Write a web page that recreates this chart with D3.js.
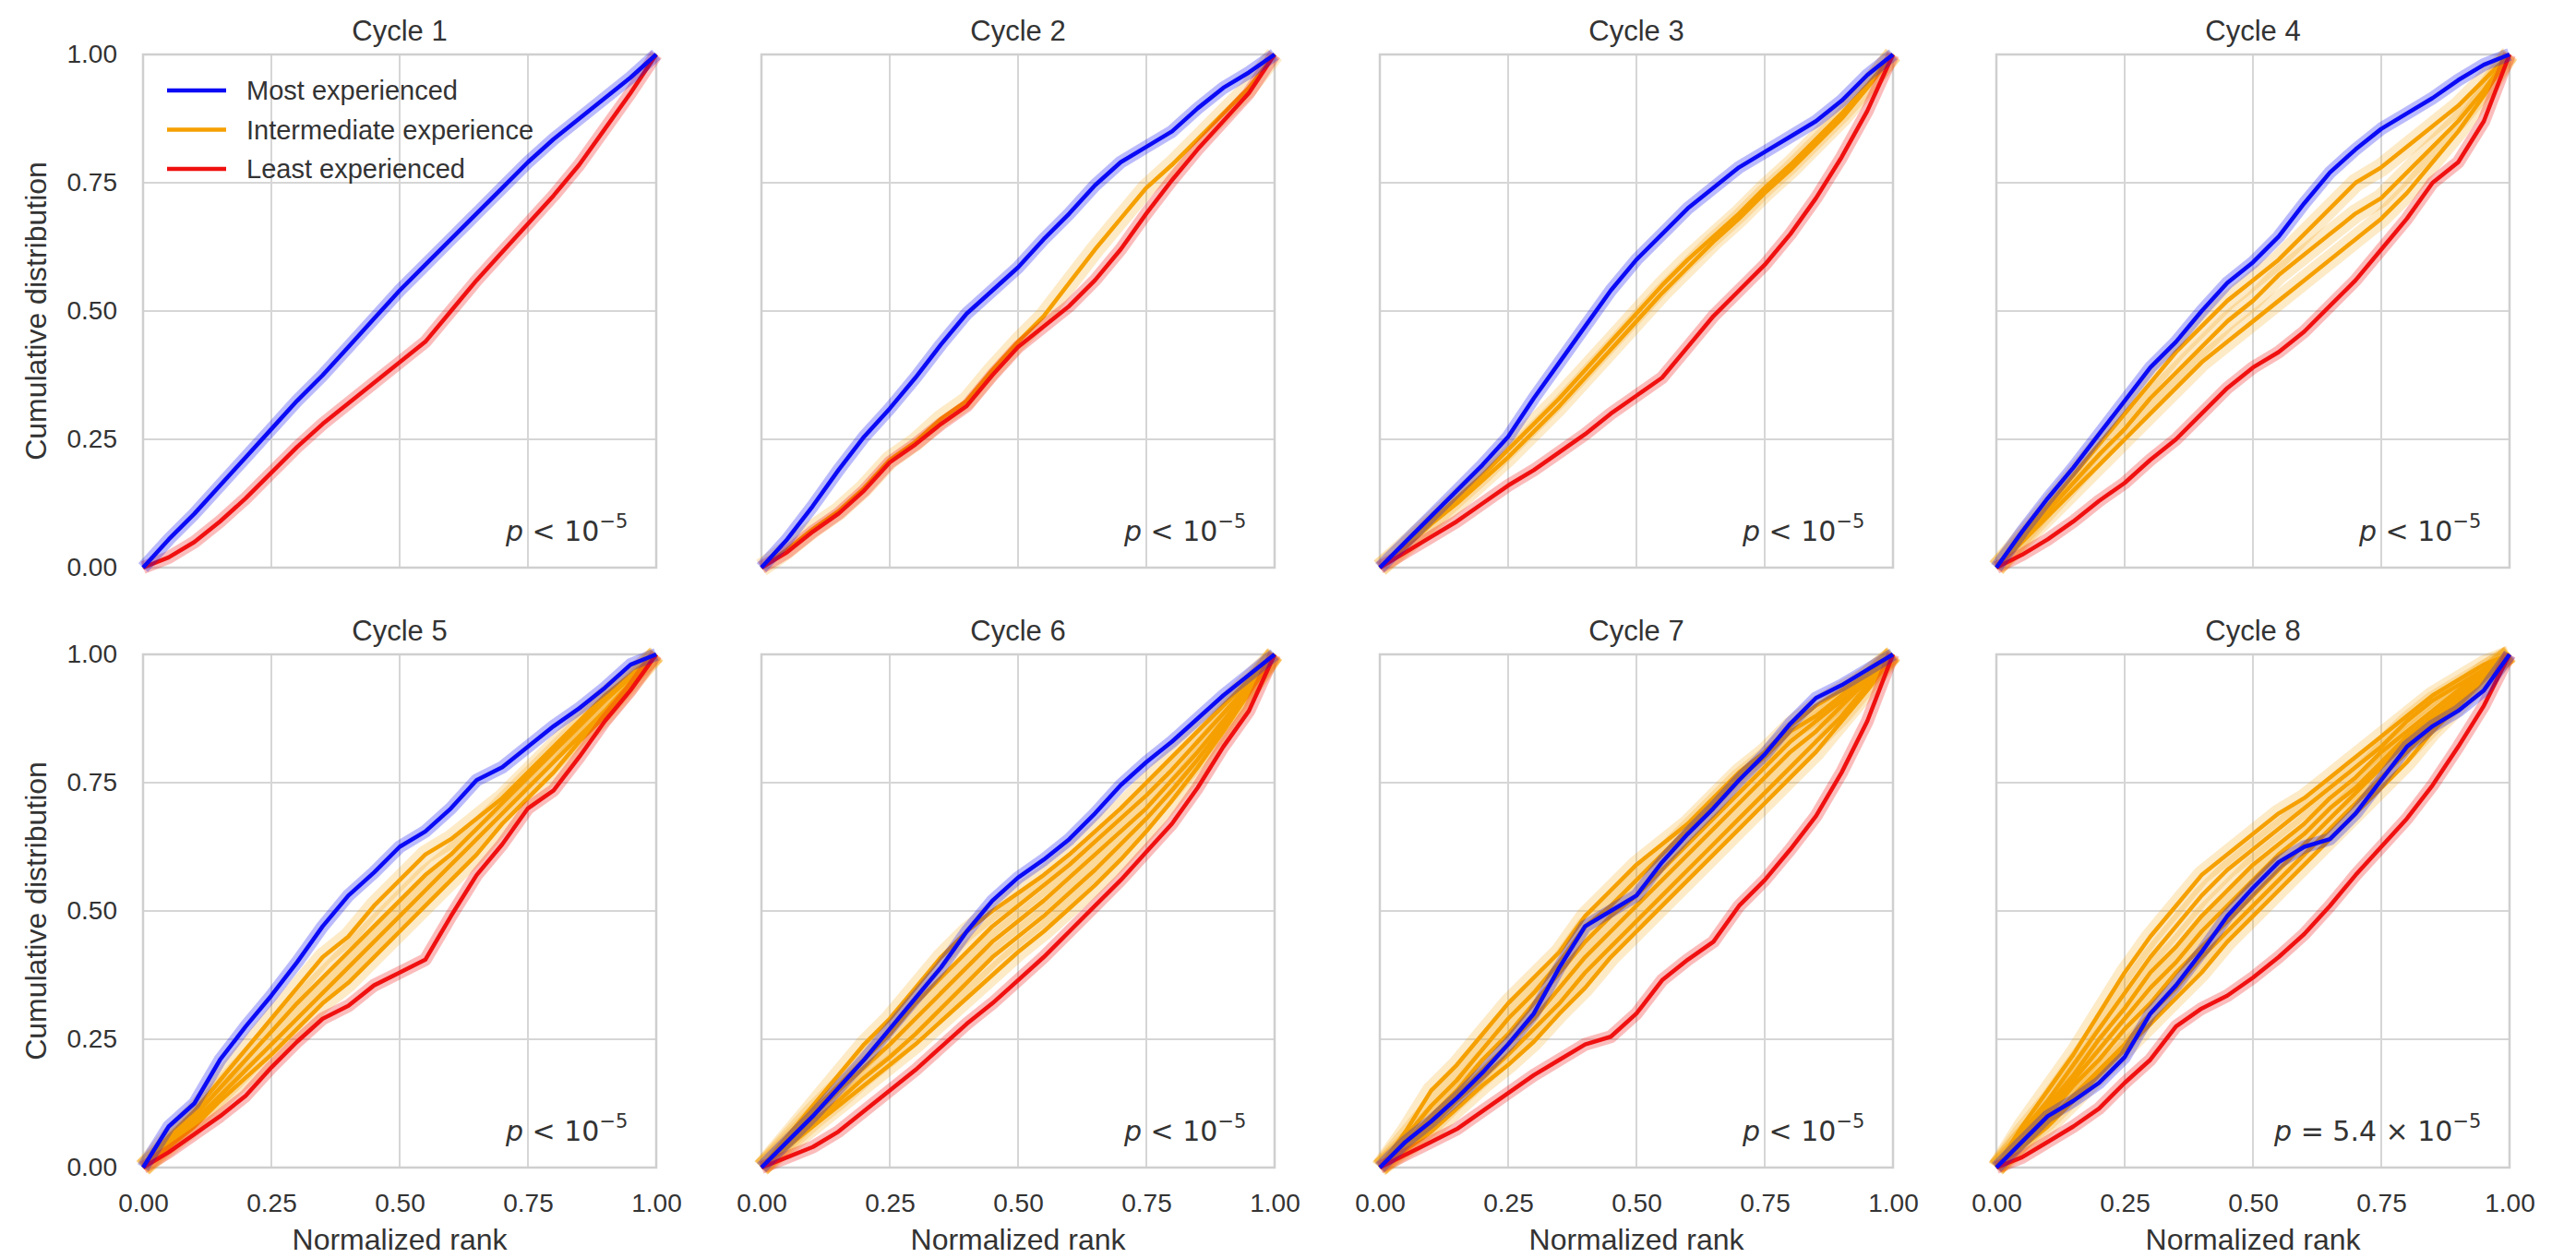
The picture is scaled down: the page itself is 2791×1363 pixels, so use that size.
<!DOCTYPE html>
<html>
<head>
<meta charset="utf-8">
<script src="https://cdn.jsdelivr.net/npm/d3@7"></script>
<style>
  html, body { margin: 0; padding: 0; background: #fff; }
  svg { display: block; }
  text { font-family: "Liberation Sans", Arial, sans-serif; fill: #333; }
</style>
</head>
<body>
<div id="chart"></div>
<script>
const cycleTitles = ["Cycle 1", "Cycle 2", "Cycle 3", "Cycle 4", "Cycle 5", "Cycle 6", "Cycle 7", "Cycle 8"];
const rankGrid = [0, 0.05, 0.1, 0.15, 0.2, 0.25, 0.3, 0.35, 0.4, 0.45, 0.5, 0.55, 0.6, 0.65, 0.7, 0.75, 0.8, 0.85, 0.9, 0.95, 1];
const axisTicks = [0, 0.25, 0.5, 0.75, 1];

const mostExperienced = [
  [0, .055, .105, .16, .215, .27, .325, .375, .43, .485, .54, .59, .64, .69, .74, .79, .835, .875, .915, .955, 1],
  [0, .055, .12, .19, .255, .31, .37, .435, .495, .54, .585, .64, .69, .745, .79, .82, .85, .895, .935, .965, 1],
  [0, .05, .10, .15, .20, .255, .33, .40, .47, .54, .60, .65, .70, .74, .78, .81, .84, .87, .91, .96, 1],
  [0, .07, .135, .195, .26, .325, .39, .44, .5, .555, .595, .645, .71, .77, .815, .855, .885, .915, .95, .98, 1],
  [0, .08, .125, .21, .275, .335, .40, .47, .53, .575, .625, .655, .70, .755, .78, .82, .86, .895, .935, .98, 1],
  [0, .05, .10, .155, .21, .27, .33, .39, .46, .52, .565, .60, .64, .69, .745, .79, .83, .875, .92, .96, 1],
  [0, .05, .09, .135, .185, .24, .30, .39, .47, .50, .53, .595, .65, .70, .755, .805, .865, .915, .94, .97, 1],
  [0, .05, .10, .13, .165, .215, .30, .355, .42, .49, .545, .595, .625, .64, .69, .755, .82, .86, .89, .93, 1]
];

const leastExperienced = [
  [0, .02, .05, .09, .135, .185, .235, .28, .32, .36, .40, .44, .50, .56, .615, .67, .725, .785, .855, .925, 1],
  [0, .03, .07, .105, .15, .205, .24, .28, .315, .375, .43, .47, .51, .56, .62, .69, .755, .815, .87, .925, 1],
  [0, .03, .06, .09, .125, .16, .19, .225, .26, .30, .335, .37, .43, .49, .54, .59, .65, .72, .80, .89, 1],
  [0, .025, .055, .09, .13, .165, .21, .25, .30, .35, .39, .42, .46, .51, .56, .62, .68, .75, .79, .87, 1],
  [0, .03, .065, .10, .14, .195, .245, .29, .315, .355, .38, .405, .49, .57, .63, .70, .735, .80, .87, .93, 1],
  [0, .02, .04, .07, .11, .15, .19, .235, .28, .32, .365, .41, .46, .51, .56, .615, .67, .74, .82, .89, 1],
  [0, .025, .05, .075, .11, .145, .18, .21, .24, .255, .30, .365, .405, .44, .51, .56, .62, .685, .77, .87, 1],
  [0, .02, .05, .08, .115, .165, .21, .275, .31, .335, .37, .41, .455, .51, .57, .625, .68, .745, .82, .90, 1]
];

const intermediateExperience = [
  [],
  [
    [0, .035, .075, .11, .155, .21, .245, .29, .325, .385, .44, .49, .555, .62, .68, .74, .785, .835, .885, .935, 1]
  ],
  [
    [0, .045, .09, .135, .18, .23, .28, .33, .385, .44, .495, .55, .60, .645, .69, .74, .785, .835, .885, .94, 1],
    [0, .04, .085, .125, .17, .215, .265, .315, .37, .425, .48, .535, .585, .635, .68, .73, .775, .825, .875, .935, 1]
  ],
  [
    [0, .06, .12, .18, .24, .30, .36, .42, .47, .52, .56, .60, .65, .70, .75, .78, .82, .86, .90, .95, 1],
    [0, .055, .11, .165, .22, .27, .33, .38, .43, .48, .52, .57, .61, .65, .69, .72, .77, .82, .87, .93, 1],
    [0, .05, .10, .15, .20, .25, .30, .35, .40, .44, .48, .52, .56, .60, .64, .68, .73, .79, .85, .92, 1]
  ],
  [
    [0, .06, .11, .17, .23, .29, .35, .41, .45, .51, .56, .61, .64, .68, .72, .77, .82, .87, .92, .96, 1],
    [0, .05, .10, .155, .21, .265, .32, .37, .42, .47, .52, .57, .61, .66, .71, .76, .81, .86, .91, .955, 1],
    [0, .045, .09, .14, .19, .24, .29, .34, .39, .44, .49, .54, .59, .64, .69, .74, .79, .84, .89, .945, 1],
    [0, .04, .08, .13, .175, .22, .27, .32, .36, .41, .46, .51, .56, .61, .67, .72, .77, .83, .88, .94, 1]
  ],
  [
    [0, .06, .12, .18, .24, .29, .35, .41, .46, .50, .535, .57, .61, .655, .70, .75, .80, .85, .90, .95, 1],
    [0, .055, .11, .16, .21, .26, .32, .37, .42, .47, .51, .55, .59, .635, .68, .725, .775, .83, .885, .94, 1],
    [0, .05, .10, .15, .195, .24, .29, .34, .39, .44, .48, .52, .565, .61, .655, .70, .755, .81, .87, .935, 1],
    [0, .045, .09, .13, .175, .215, .26, .31, .36, .41, .45, .49, .535, .58, .63, .68, .735, .795, .86, .93, 1],
    [0, .04, .08, .12, .16, .20, .24, .285, .33, .375, .42, .46, .505, .55, .60, .655, .715, .78, .85, .925, 1]
  ],
  [
    [0, .07, .15, .20, .26, .32, .37, .42, .49, .54, .59, .63, .67, .72, .77, .81, .86, .90, .93, .96, 1],
    [0, .06, .12, .17, .23, .29, .34, .40, .47, .51, .56, .61, .66, .71, .76, .80, .85, .88, .92, .96, 1],
    [0, .05, .10, .15, .21, .26, .32, .38, .44, .49, .53, .58, .63, .68, .73, .78, .83, .87, .91, .95, 1],
    [0, .045, .09, .14, .19, .24, .29, .35, .41, .46, .51, .56, .61, .66, .71, .76, .81, .85, .90, .95, 1],
    [0, .04, .08, .13, .175, .22, .27, .32, .38, .43, .48, .53, .58, .63, .68, .73, .78, .83, .88, .94, 1],
    [0, .035, .07, .115, .16, .20, .245, .30, .35, .41, .46, .51, .56, .61, .66, .71, .76, .81, .87, .93, 1]
  ],
  [
    [0, .08, .15, .22, .30, .38, .45, .51, .57, .61, .65, .69, .72, .76, .80, .84, .88, .92, .95, .98, 1],
    [0, .07, .13, .20, .27, .34, .41, .47, .53, .58, .62, .66, .70, .74, .78, .82, .87, .91, .94, .97, 1],
    [0, .06, .12, .18, .25, .31, .38, .43, .49, .54, .59, .63, .67, .72, .76, .81, .85, .89, .93, .97, 1],
    [0, .06, .11, .17, .23, .29, .35, .40, .46, .51, .56, .61, .65, .70, .74, .79, .84, .88, .92, .96, 1],
    [0, .05, .10, .16, .21, .27, .32, .38, .43, .48, .53, .58, .63, .68, .73, .78, .83, .87, .91, .96, 1],
    [0, .05, .09, .14, .19, .24, .30, .35, .41, .46, .51, .56, .61, .66, .71, .76, .81, .86, .91, .96, 1],
    [0, .04, .08, .13, .18, .23, .28, .33, .38, .44, .49, .54, .59, .64, .69, .74, .79, .85, .90, .95, 1]
  ]
];

// p-value annotation: [relation, mantissa]
const pValues = [
  ["<", null], ["<", null], ["<", null], ["<", null],
  ["<", null], ["<", null], ["<", null], ["=", "5.4"]
];

const legendLabels = ["Most experienced", "Intermediate experience", "Least experienced"];
const legendColors = ["#0a0af5", "#f5a000", "#f01010"];

const W = 2791, H = 1363;
const size = 556;
const panelLeft = [155, 825, 1495, 2163];
const panelTop = [59, 709];

const svg = d3.select("#chart").append("svg")
  .attr("width", W)
  .attr("height", H);

const x = d3.scaleLinear().domain([0, 1]).range([0, size]);
const y = d3.scaleLinear().domain([0, 1]).range([size, 0]);
const line = d3.line()
  .x((d, i) => x(rankGrid[i]))
  .y(d => y(d));

const drawCurve = (g, values, color, bandWidth, bandOpacity) => {
  g.append("path")
    .attr("d", line(values))
    .attr("fill", "none")
    .attr("stroke", color)
    .attr("stroke-opacity", bandOpacity)
    .attr("stroke-width", bandWidth)
    .attr("stroke-linejoin", "round");
  g.append("path")
    .attr("d", line(values))
    .attr("fill", "none")
    .attr("stroke", color)
    .attr("stroke-width", 4.5)
    .attr("stroke-linejoin", "round");
};

cycleTitles.forEach((title, k) => {
  const col = k % 4, row = Math.floor(k / 4);
  const g = svg.append("g")
    .attr("transform", `translate(${panelLeft[col]},${panelTop[row]})`);

  // grid
  g.selectAll(".vgrid").data(axisTicks).enter().append("line")
    .attr("x1", d => x(d)).attr("x2", d => x(d))
    .attr("y1", 0).attr("y2", size)
    .attr("stroke", "#d6d6d6").attr("stroke-width", 2);
  g.selectAll(".hgrid").data(axisTicks).enter().append("line")
    .attr("y1", d => y(d)).attr("y2", d => y(d))
    .attr("x1", 0).attr("x2", size)
    .attr("stroke", "#d6d6d6").attr("stroke-width", 2);
  g.append("rect")
    .attr("width", size).attr("height", size)
    .attr("fill", "none")
    .attr("stroke", "#cfcfcf").attr("stroke-width", 2.5);

  // curves: intermediate first, then least, then most
  const curves = g.append("g");
  intermediateExperience[k].forEach(v => drawCurve(curves, v, legendColors[1], 20, 0.22));
  drawCurve(curves, leastExperienced[k], legendColors[2], 14, 0.28);
  drawCurve(curves, mostExperienced[k], legendColors[0], 14, 0.28);

  // title
  g.append("text")
    .attr("x", size / 2)
    .attr("y", -15)
    .attr("text-anchor", "middle")
    .style("font-size", "31px")
    .text(title);

  // y axis on the left column
  if (col === 0) {
    const ya = g.append("g")
      .call(d3.axisLeft(y).tickValues(axisTicks).tickFormat(d3.format(".2f")).tickSize(0).tickPadding(28));
    ya.select(".domain").remove();
    ya.selectAll("text").style("font-size", "28px").style("font-family", "Liberation Sans, Arial, sans-serif").attr("fill", "#333");
    g.append("text")
      .attr("transform", "rotate(-90)")
      .attr("x", -size / 2)
      .attr("y", -105)
      .attr("text-anchor", "middle")
      .style("font-size", "32px")
      .text("Cumulative distribution");
  }

  // x axis on the bottom row
  if (row === 1) {
    const xa = g.append("g")
      .attr("transform", `translate(0,${size})`)
      .call(d3.axisBottom(x).tickValues(axisTicks).tickFormat(d3.format(".2f")).tickSize(0).tickPadding(28));
    xa.select(".domain").remove();
    xa.selectAll("text").style("font-size", "28px").style("font-family", "Liberation Sans, Arial, sans-serif").attr("fill", "#333");
    g.append("text")
      .attr("x", size / 2)
      .attr("y", size + 89)
      .attr("text-anchor", "middle")
      .style("font-size", "32px")
      .text("Normalized rank");
  }

  // p-value
  const [rel, mant] = pValues[k];
  const pt = g.append("text")
    .attr("x", size * 0.945)
    .attr("y", size - 29)
    .attr("text-anchor", "end")
    .style("font-family", "DejaVu Sans, sans-serif")
    .style("font-size", "30px");
  pt.append("tspan").style("font-style", "italic").text("p");
  pt.append("tspan").text(mant ? ` ${rel} ${mant} \u00d7 10` : ` ${rel} 10`);
  pt.append("tspan").attr("dy", -14).style("font-size", "21px").text("\u22125");

  // legend in the first panel
  if (k === 0) {
    const lg = g.append("g").attr("transform", "translate(26,39)");
    legendLabels.forEach((lab, i) => {
      lg.append("line")
        .attr("x1", 0).attr("x2", 64)
        .attr("y1", i * 42.5).attr("y2", i * 42.5)
        .attr("stroke", legendColors[i]).attr("stroke-width", 4.5);
      lg.append("text")
        .attr("x", 86)
        .attr("y", i * 42.5 + 10)
        .style("font-size", "29px")
        .text(lab);
    });
  }
});
</script>
</body>
</html>
